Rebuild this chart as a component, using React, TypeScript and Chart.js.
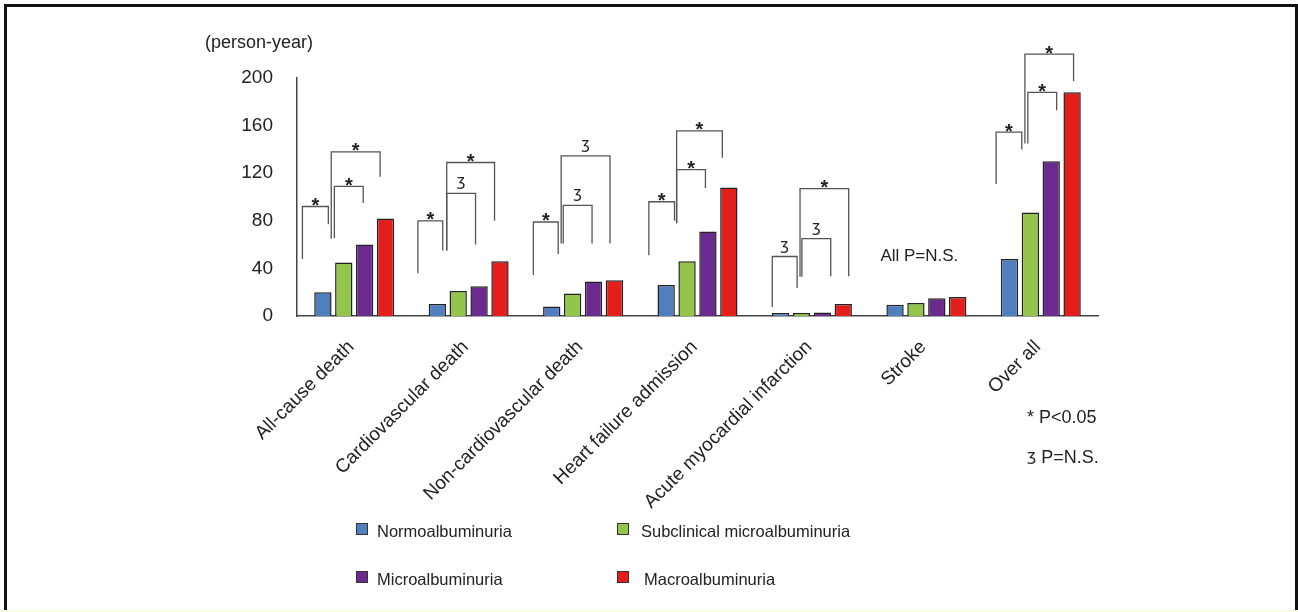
import React, { useEffect, useRef } from 'react';
import { Chart, registerables } from 'chart.js';

Chart.register(...registerables);

const categories = [
  'All-cause death',
  'Cardiovascular death',
  'Non-cardiovascular death',
  'Heart failure admission',
  'Acute myocardial infarction',
  'Stroke',
  'Over all',
];
const seriesNames = ['Normoalbuminuria', 'Subclinical microalbuminuria', 'Microalbuminuria', 'Macroalbuminuria'];
const normoValues = [20, 10, 8, 26, 2.5, 9.5, 48];
const subclinicalValues = [45, 21, 19, 46, 2.5, 11, 87];
const microValues = [60, 25, 29, 71, 3, 15, 130];
const macroValues = [82, 46, 30, 108, 10, 16, 188];
const seriesColors = ['#4F7FBE', '#92C54A', '#6A2A8E', '#E41E1B'];
const yTickValues = [0, 40, 80, 120, 160, 200];

// significance brackets: category, from/to (bar slot units), top, left leg end, right leg end (data units), mark
const bracketCategory = [0, 0, 0, 1, 1, 1, 2, 2, 2, 3, 3, 3, 4, 4, 4, 6, 6, 6];
const bracketFrom = [-0.98, 0.55, 0.4, -0.93, 0.45, 0.45, -0.88, 0.55, 0.45, -0.83, 0.5, 0.5, -0.4, 1.02, 0.93, -0.64, 0.88, 0.74];
const bracketTo = [0.26, 1.93, 2.74, 0.26, 1.83, 2.74, 0.31, 1.93, 2.79, 0.4, 1.88, 2.69, 0.79, 2.4, 3.26, 0.59, 2.26, 3.07];
const bracketTop = [92, 109, 138, 80, 103, 129, 79, 93, 134.5, 96, 123, 155.5, 50, 65, 107, 154.6, 188, 220];
const bracketLeftEnd = [48, 65.5, 65, 36, 55, 55, 34.5, 61, 61, 51, 78, 78, 7.5, 33, 33, 111, 145, 145];
const bracketRightEnd = [77, 95, 117, 55, 60, 80, 52, 61, 61, 80, 107.5, 133, 23.5, 33.5, 33.5, 140, 173, 197.5];
const bracketMark = ['*', '*', '*', '*', 'ʒ', '*', '*', 'ʒ', 'ʒ', '*', '*', '*', 'ʒ', 'ʒ', '*', '*', '*', '*'];

const strokeNote = 'All P=N.S.';
const strokeNoteCategory = 5;
const strokeNoteValue = 46;
const yAxisTitle = '(person-year)';
const footnoteStar = ['*', ' P<0.05'];
const footnoteNs = ['ʒ', ' P=N.S.'];

const FONT = '"Liberation Sans", Arial, "DejaVu Sans", sans-serif';
const GLYPH_FONT = '"DejaVu Sans", "Liberation Sans", sans-serif';

const annotPlugin = {
  id: 'annot',
  beforeDraw(chart: any) {
    const ctx = chart.ctx;
    const W = chart.width;
    const H = chart.height;
    ctx.save();
    ctx.fillStyle = '#ffffff';
    ctx.fillRect(0, 0, W, H);
    ctx.fillStyle = '#FFFBE3';
    ctx.fillRect(0, 610, W, 2);
    ctx.fillStyle = '#111111';
    ctx.fillRect(4, 4, 3, 606);
    ctx.fillRect(4, 4, W - 4, 3);
    ctx.fillRect(W - 3, 4, 3, 606);
    ctx.restore();
  },
  afterDraw(chart: any) {
    const ctx = chart.ctx;
    const xs = chart.scales.x;
    const ys = chart.scales.y;
    const m0 = chart.getDatasetMeta(0);
    const m1 = chart.getDatasetMeta(1);
    ctx.save();

    // y-axis title
    ctx.fillStyle = '#222';
    ctx.font = `18px ${FONT}`;
    ctx.textAlign = 'left';
    ctx.textBaseline = 'alphabetic';
    ctx.fillText(yAxisTitle, 205, 48);

    // brackets
    for (let i = 0; i < bracketCategory.length; i++) {
      const c = bracketCategory[i];
      const bx = m0.data[c].x;
      const step = m1.data[c].x - m0.data[c].x;
      const xl = bx + bracketFrom[i] * step;
      const xr = bx + bracketTo[i] * step;
      const yt = ys.getPixelForValue(bracketTop[i]);
      const yl = ys.getPixelForValue(bracketLeftEnd[i]);
      const yr = ys.getPixelForValue(bracketRightEnd[i]);
      ctx.strokeStyle = '#555';
      ctx.lineWidth = 1.3;
      ctx.beginPath();
      ctx.moveTo(xl, yl);
      ctx.lineTo(xl, yt);
      ctx.lineTo(xr, yt);
      ctx.lineTo(xr, yr);
      ctx.stroke();
      ctx.fillStyle = '#222';
      ctx.textAlign = 'center';
      ctx.textBaseline = 'alphabetic';
      const mx = (xl + xr) / 2;
      if (bracketMark[i] === '*') {
        ctx.font = `bold 20px ${FONT}`;
        ctx.fillText('*', mx, yt + 5.5);
      } else {
        ctx.font = `15px ${GLYPH_FONT}`;
        ctx.fillText(bracketMark[i], mx, yt - 7);
      }
    }

    // stroke note
    ctx.font = `17px ${FONT}`;
    ctx.fillStyle = '#222';
    ctx.textAlign = 'center';
    ctx.fillText(strokeNote, xs.getPixelForValue(strokeNoteCategory) - 7, ys.getPixelForValue(strokeNoteValue));

    // footnotes
    ctx.textAlign = 'left';
    ctx.font = `18px ${FONT}`;
    ctx.fillText(footnoteStar[0] + footnoteStar[1], 1027, 423);
    ctx.font = `16px ${GLYPH_FONT}`;
    ctx.fillText(footnoteNs[0], 1027, 461);
    const gw = ctx.measureText(footnoteNs[0]).width;
    ctx.font = `18px ${FONT}`;
    ctx.fillText(footnoteNs[1], 1027 + gw, 463);

    // legend 2x2
    const legX = [356, 617];
    const legTextX = [377, 641];
    const legY = [523, 571];
    ctx.font = `16.5px ${FONT}`;
    for (let k = 0; k < seriesNames.length; k++) {
      const col = k % 2;
      const row = Math.floor(k / 2);
      ctx.fillStyle = seriesColors[k];
      ctx.fillRect(legX[col], legY[row], 12, 12);
      ctx.strokeStyle = '#333';
      ctx.lineWidth = 1;
      ctx.strokeRect(legX[col] + 0.5, legY[row] + 0.5, 11, 11);
      ctx.fillStyle = '#222';
      ctx.textAlign = 'left';
      ctx.fillText(seriesNames[k], legTextX[col] + (k === 3 ? 3 : 0), legY[row] + 14);
    }
    ctx.restore();
  },
};

export default function App() {
  const ref = useRef<HTMLCanvasElement | null>(null);
  useEffect(() => {
    if (!ref.current) return;
    const values = [normoValues, subclinicalValues, microValues, macroValues];
    const chart = new Chart(ref.current, {
      type: 'bar',
      data: {
        labels: categories,
        datasets: seriesNames.map((n, i) => ({
          label: n,
          data: values[i],
          backgroundColor: seriesColors[i],
          borderColor: '#222',
          borderWidth: 1.5,
          categoryPercentage: 0.73,
          barPercentage: 0.83,
        })),
      },
      options: {
        responsive: false,
        animation: false,
        devicePixelRatio: 1,
        layout: { padding: { left: 200, right: 200, top: 78, bottom: 0 } },
        plugins: { legend: { display: false }, tooltip: { enabled: false } },
        scales: {
          x: {
            grid: { display: false, drawTicks: false },
            border: { display: true, color: '#444', width: 1.5 },
            ticks: {
              color: '#222',
              font: { family: FONT, size: 19 },
              minRotation: 45,
              maxRotation: 45,
              padding: 20,
              labelOffset: -3,
            },
            afterFit: (s: any) => {
              s.height = 296;
            },
          },
          y: {
            min: 0,
            max: 200,
            afterBuildTicks: (s: any) => {
              s.ticks = yTickValues.map((v) => ({ value: v }));
            },
            grid: { display: false, drawTicks: false },
            border: { display: true, color: '#444', width: 1.5 },
            ticks: {
              color: '#222',
              font: { family: FONT, size: 19 },
              padding: 24,
            },
            afterFit: (s: any) => {
              s.width = 97;
            },
          },
        },
      },
      plugins: [annotPlugin],
    });
    return () => chart.destroy();
  }, []);
  return (
    <div style={{ position: 'absolute', left: 0, top: 0, width: 1298, height: 612 }}>
      <canvas ref={ref} width={1298} height={612} style={{ display: 'block' }} />
    </div>
  );
}
